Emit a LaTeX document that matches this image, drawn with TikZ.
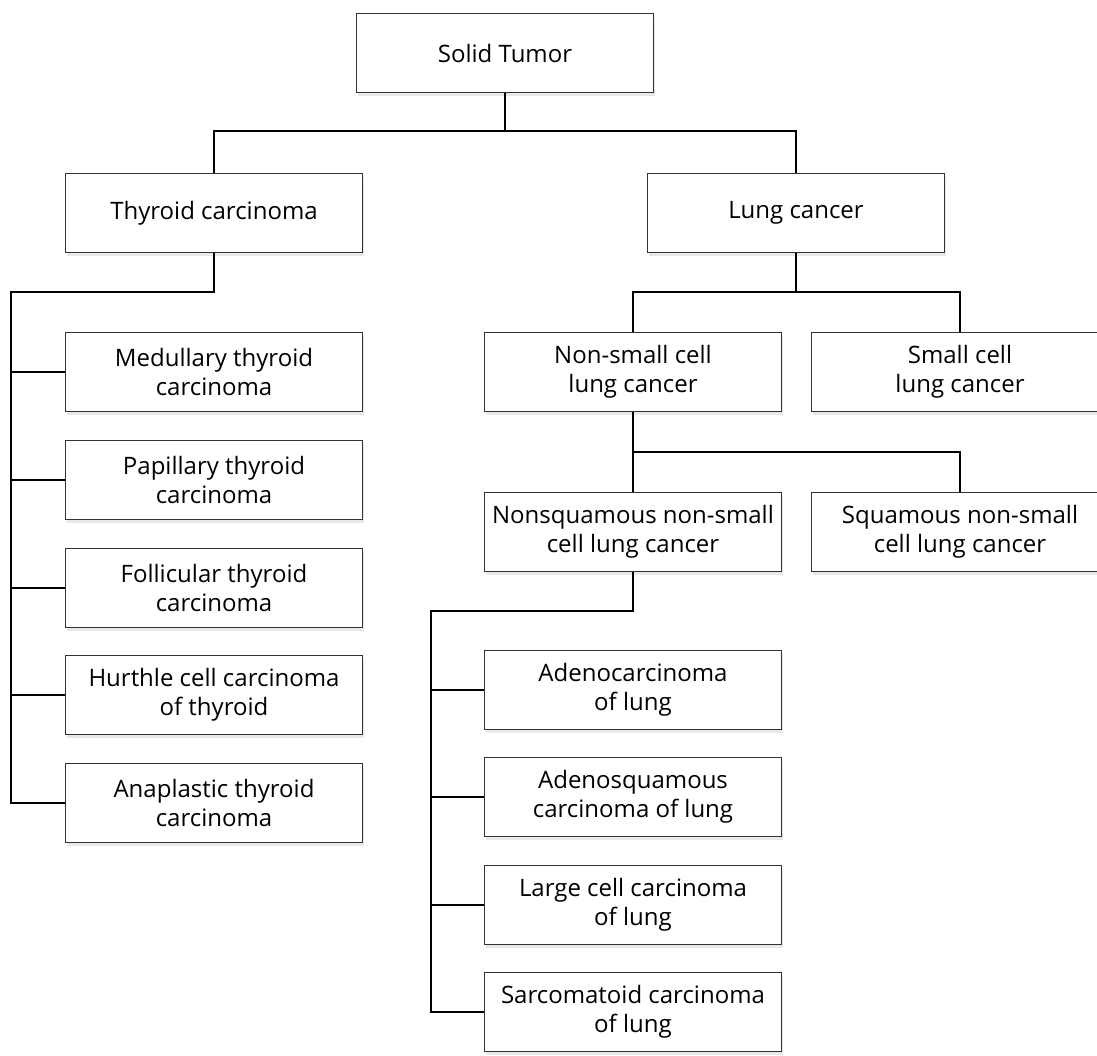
\documentclass[tikz,border=0pt]{standalone}
\usepackage{fontspec}
\setmainfont{Open Sans}
\usetikzlibrary{shadows}
\begin{document}
\begin{tikzpicture}[x=1pt,y=-1pt,
  box/.style={draw=black!80, line width=1.3pt, fill=white,
    minimum width=297pt, minimum height=79pt, inner sep=0pt,
    align=center, font=\fontsize{24}{29}\selectfont,
    drop shadow={opacity=0.18, shadow xshift=1.5pt, shadow yshift=-3pt}},
  conn/.style={line width=2pt, black, line join=miter}]
\useasboundingbox (0,0) rectangle (1097,1055);
\clip (0,0) rectangle (1097,1055);
\node[box] (st) at (505,53) {Solid Tumor};
\node[box] (thy) at (214,213) {Thyroid carcinoma};
\node[box] (lung) at (796,213) {Lung cancer};
\node[box] (med) at (214,372) {Medullary thyroid\\carcinoma};
\node[box] (pap) at (214,480) {Papillary thyroid\\carcinoma};
\node[box] (fol) at (214,588) {Follicular thyroid\\carcinoma};
\node[box] (hur) at (214,695) {Hurthle cell carcinoma\\of thyroid};
\node[box] (ana) at (214,803) {Anaplastic thyroid\\carcinoma};
\node[box] (nsc) at (633,372) {Non-small cell\\lung cancer};
\node[box] (sc) at (960,372) {Small cell\\lung cancer};
\node[box] (nsq) at (633,532) {Nonsquamous non-small\\cell lung cancer};
\node[box] (sq) at (960,532) {Squamous non-small\\cell lung cancer};
\node[box] (ad) at (633,690) {Adenocarcinoma\\of lung};
\node[box] (ads) at (633,797) {Adenosquamous\\carcinoma of lung};
\node[box] (lc) at (633,905) {Large cell carcinoma\\of lung};
\node[box] (sar) at (633,1012) {Sarcomatoid carcinoma\\of lung};
\coordinate (j1) at (505,131);
\coordinate (j2) at (11,292);
\coordinate (j3) at (796,292);
\coordinate (j4) at (633,452);
\coordinate (j5) at (431,611);
\draw[conn] (st.south) -- (j1);
\draw[conn] (thy.north) |- (j1) -| (lung.north);
\draw[conn] (thy.south) |- (j2) -- (j2 |- ana.west) -- (ana.west);
\foreach \n in {med,pap,fol,hur} \draw[conn] (j2 |- \n.west) -- (\n.west);
\draw[conn] (lung.south) -- (j3);
\draw[conn] (nsc.north) |- (j3) -| (sc.north);
\draw[conn] (nsc.south) -- (nsq.north);
\draw[conn] (j4) -| (sq.north);
\draw[conn] (nsq.south) |- (j5) -- (j5 |- sar.west) -- (sar.west);
\foreach \n in {ad,ads,lc} \draw[conn] (j5 |- \n.west) -- (\n.west);
\end{tikzpicture}
\end{document}
